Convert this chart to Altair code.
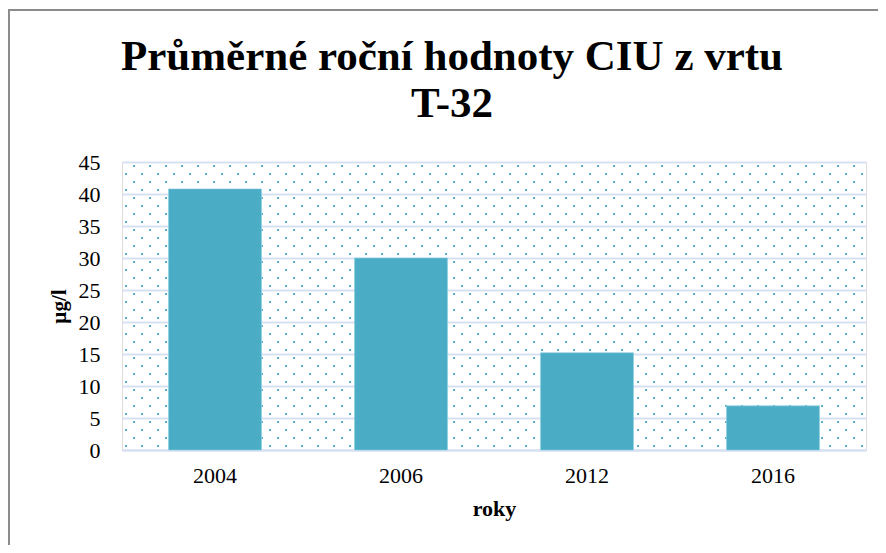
import altair as alt
import pandas as pd

years = ["2004", "2006", "2012", "2016"]
values = [40.8, 30.0, 15.2, 6.9]

title_lines = ["Průměrné roční hodnoty CIU z vrtu", "T-32"]
y_title = "µg/l"
x_title = "roky"

BAR = "#4BACC6"
GRID = "#D6E0F2"
FONT = "Liberation Serif"

W, H = 744, 288
df = pd.DataFrame({"rok": years, "hodnota": values})

y_axis = alt.Axis(
    title=y_title,
    values=list(range(0, 50, 5)),
    labelFont=FONT,
    labelFontSize=22,
    labelColor="#000",
    labelPadding=22,
    ticks=False,
    domain=False,
    grid=True,
    gridColor=GRID,
    gridWidth=2,
    titleFont=FONT,
    titleFontSize=21,
    titleFontWeight="bold",
    titleColor="#000",
    titlePadding=9,
)
y_scale = alt.Scale(domain=[0, 45], nice=False)

# decorative dotted fill pattern of the plot area
NCOL, NROW = 47, 36
dots = (
    alt.Chart(alt.sequence(0, NCOL * NROW, as_="i"))
    .transform_calculate(
        row="floor(datum.i / 47)",
        col="datum.i % 47",
    )
    .transform_calculate(
        px="4 + 8 * (datum.row % 2) + 16 * datum.col",
        py="0.625 + 1.25 * datum.row",
    )
    .transform_filter("datum.px < 744 && datum.py < 45")
    .mark_square(size=4, color=BAR, opacity=0.9)
    .encode(
        x=alt.X("px:Q", scale=alt.Scale(domain=[0, W], nice=False, zero=False), axis=None),
        y=alt.Y("py:Q", scale=y_scale, axis=y_axis),
    )
)

bars = (
    alt.Chart(df)
    .mark_bar(color=BAR, stroke="#8fd0e0", strokeWidth=0.6)
    .encode(
        x=alt.X(
            "rok:N",
            sort=years,
            scale=alt.Scale(paddingInner=0.5, paddingOuter=0.25),
            axis=alt.Axis(
                title=x_title,
                labelAngle=0,
                labelFont=FONT,
                labelFontSize=22,
                labelColor="#000",
                labelPadding=15,
                ticks=False,
                domain=True,
                domainColor=GRID,
                domainWidth=2,
                grid=False,
                titleFont=FONT,
                titleFontSize=22,
                titleFontWeight="bold",
                titleColor="#000",
                titlePadding=12,
            ),
        ),
        y=alt.Y("hodnota:Q", scale=y_scale, axis=y_axis),
    )
)

title_df = pd.DataFrame({"t": title_lines, "line": [0, 1]})
title1 = alt.Chart(title_df.iloc[[0]]).mark_text(
    font=FONT, fontSize=43, fontWeight="bold", color="#000", align="center",
    baseline="alphabetic", clip=False,
).encode(text="t:N", x=alt.value(330), y=alt.value(-92))
title2 = alt.Chart(title_df.iloc[[1]]).mark_text(
    font=FONT, fontSize=43, fontWeight="bold", color="#000", align="center",
    baseline="alphabetic", clip=False,
).encode(text="t:N", x=alt.value(330), y=alt.value(-45))

frame_top = alt.Chart(df).mark_rule(color="#8c8c8c", strokeWidth=2, clip=False).encode(
    x=alt.value(-114), x2=alt.value(W + 12), y=alt.value(-152)
)
frame_left = alt.Chart(df).mark_rule(color="#8c8c8c", strokeWidth=2, clip=False).encode(
    x=alt.value(-113), y=alt.value(-152), y2=alt.value(H + 95)
)

chart = (
    alt.layer(dots, bars, title1, title2, frame_top, frame_left)
    .resolve_scale(x="independent")
    .properties(
        width=W,
        height=H,
        autosize=alt.AutoSizeParams(type="none"),
        padding={"left": 114, "top": 154, "right": 12, "bottom": 95},
    )
    .configure_view(stroke=None)
    .configure(background="white")
)

chart.save("out.html", embed_options={"renderer": "svg", "actions": False})
